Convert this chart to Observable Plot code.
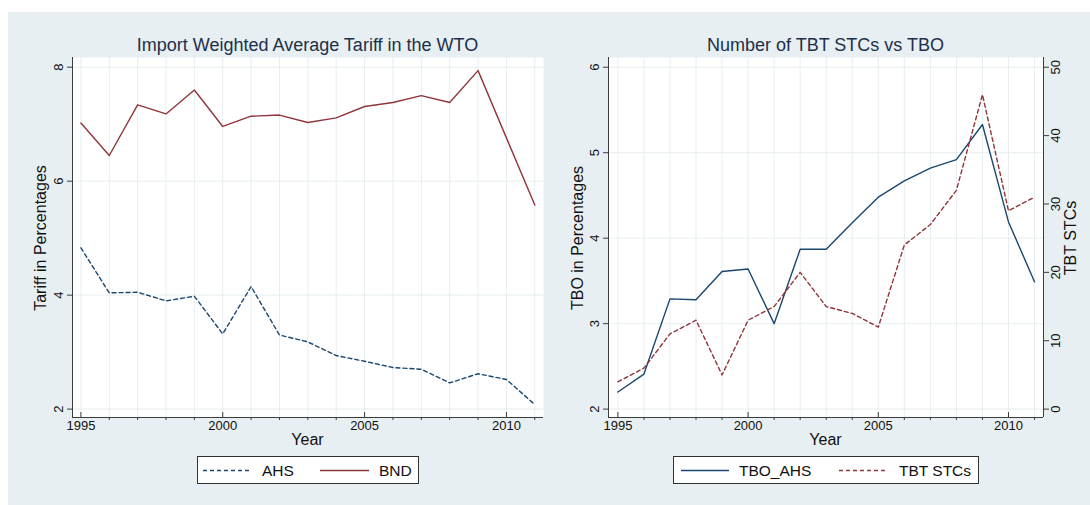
<!DOCTYPE html>
<html><head><meta charset="utf-8">
<script src="https://cdn.jsdelivr.net/npm/d3@7"></script>
<script src="https://cdn.jsdelivr.net/npm/@observablehq/plot@0.6"></script>
<style>
body{margin:0;background:#fff;}
#wrap{position:relative;width:1090px;height:505px;background:#fff;overflow:hidden;font-family:"Liberation Sans",Arial,sans-serif;}
#bg{position:absolute;left:8px;top:12px;right:0;bottom:0;background:#e8eff2;}
.panel{position:absolute;top:0;}
.panel text{font-size:13px !important;font-family:"Liberation Sans",Arial,sans-serif;}
.t{position:absolute;white-space:nowrap;color:#111;line-height:1;}
.title{font-size:18px;color:#1d2f4b;transform:translate(-50%,-50%);}
.xl{font-size:16px;transform:translate(-50%,-50%);}
.yl{font-size:16px;transform:translate(-50%,-50%) rotate(-90deg);}
.legend{position:absolute;background:#fff;border:1px solid #333;box-sizing:border-box;}
.legend svg{position:absolute;left:0;top:0;}
.lt{position:absolute;font-size:15.5px;color:#111;line-height:1;white-space:nowrap;transform:translateY(-50%);}
</style></head>
<body><div id="wrap"><div id="bg"></div></div>
<script>
// ---- data ----
const years = [1995,1996,1997,1998,1999,2000,2001,2002,2003,2004,2005,2006,2007,2008,2009,2010,2011];
const majorYears = [1995,2000,2005,2010];
const ahs = [4.83,4.04,4.05,3.90,3.98,3.32,4.15,3.30,3.18,2.94,2.84,2.73,2.70,2.46,2.62,2.52,2.08];
const bnd = [7.02,6.45,7.34,7.18,7.60,6.96,7.14,7.16,7.03,7.11,7.31,7.38,7.50,7.38,7.94,6.76,5.58];
const tbo = [2.20,2.41,3.29,3.28,3.61,3.64,3.00,3.87,3.87,4.18,4.48,4.67,4.82,4.92,5.33,4.19,3.49];
const stc = [4,6,11,13,5,13,15,20,15,14,12,24,27,32,46,29,31];
const leftTicks1 = [2,4,6,8];
const leftTicks2 = [2,3,4,5,6];
const stcTicks = [0,10,20,30,40,50];
const titles = ["Import Weighted Average Tariff in the WTO","Number of TBT STCs vs TBO"];
const yLabels = ["Tariff in Percentages","TBO in Percentages","TBT STCs"];
const legend1 = ["AHS","BND"];
const legend2 = ["TBO_AHS","TBT STCs"];

// right axis (0..50) aligned with left axis (2..6)
const stcToLeft = v => 2 + v * (6 - 2) / (50 - 0);
const leftToStc = d => String(Math.round((d - 2) * (50 - 0) / (6 - 2)));

const rows = years.map((year,i)=>({year, ahs:ahs[i], bnd:bnd[i], tbo:tbo[i], stc:stcToLeft(stc[i])}));
const minorYears = years.filter(y=>!majorYears.includes(y));

const navy="#1a476f", maroon="#90353b", grid="#e6eef0", axisColor="#3c3c3c", txt="#111";
const font="'Liberation Sans', Arial, sans-serif";
const wrap=document.getElementById("wrap");

function commonMarks(xd, yd, yt){
  return [
    Plot.frame({fill:"white", stroke:null}),
    Plot.gridX(years,{stroke:grid, strokeOpacity:1}),
    Plot.gridY(yt,{stroke:grid, strokeOpacity:1}),
    Plot.axisX(minorYears,{tickSize:3, tickFormat:()=>"", stroke:axisColor, label:null}),
    Plot.axisX(majorYears,{tickSize:-5, tickPadding:8, tickFormat:d=>String(d), stroke:axisColor, fill:txt, fontSize:13, label:null}),
    Plot.axisY(yt,{tickSize:5, tickRotate:-90, tickPadding:5, lineAnchor:"bottom", tickFormat:d=>String(d), stroke:axisColor, fill:txt, fontSize:13, label:null}),
    Plot.ruleY([yd[0]],{stroke:axisColor}),
    Plot.ruleX([xd[0]],{stroke:axisColor})
  ];
}

const xd1=[1994.704,2011.307], yd1=[1.853,8.17];
const p1 = Plot.plot({
  width:545, height:450, marginLeft:72, marginRight:2, marginTop:57, marginBottom:33,
  style:{background:"transparent", fontFamily:font, fontSize:"13px", color:txt},
  x:{domain:xd1}, y:{domain:yd1},
  marks:[
    ...commonMarks(xd1,yd1,leftTicks1),
    Plot.line(rows,{x:"year", y:"ahs", stroke:navy, strokeWidth:1.4, strokeDasharray:"4,3"}),
    Plot.line(rows,{x:"year", y:"bnd", stroke:maroon, strokeWidth:1.4})
  ]
});
p1.classList.add("panel"); p1.style.left="0px";
wrap.appendChild(p1);

const xd2=[1994.639,2011.345], yd2=[1.902,6.114];
const p2 = Plot.plot({
  width:545, height:450, marginLeft:63, marginRight:47, marginTop:57, marginBottom:33,
  style:{background:"transparent", fontFamily:font, fontSize:"13px", color:txt},
  x:{domain:xd2}, y:{domain:yd2},
  marks:[
    ...commonMarks(xd2,yd2,leftTicks2),
    Plot.axisY(stcTicks.map(stcToLeft),{anchor:"right", tickSize:5, tickRotate:-90, tickPadding:2, lineAnchor:"top", tickFormat:leftToStc, stroke:axisColor, fill:txt, fontSize:13, label:null}),
    Plot.ruleX([xd2[1]],{stroke:axisColor}),
    Plot.line(rows,{x:"year", y:"tbo", stroke:navy, strokeWidth:1.4}),
    Plot.line(rows,{x:"year", y:"stc", stroke:maroon, strokeWidth:1.4, strokeDasharray:"4,3"})
  ]
});
p2.classList.add("panel"); p2.style.left="545px";
wrap.appendChild(p2);

function label(text, cls, x, y){
  const d=document.createElement("div");
  d.className="t "+cls; d.textContent=text;
  d.style.left=x+"px"; d.style.top=y+"px";
  wrap.appendChild(d);
}
label(titles[0],"title",307.5,45);
label(titles[1],"title",825.5,45);
label("Year","xl",307.5,440);
label("Year","xl",825.5,440);
label(yLabels[0],"yl",41,238);
label(yLabels[1],"yl",578,238);
label(yLabels[2],"yl",1071,238);

function legend(left, width, items){
  const box=document.createElement("div");
  box.className="legend";
  box.style.left=left+"px"; box.style.top="456px";
  box.style.width=width+"px"; box.style.height="28px";
  const ns="http://www.w3.org/2000/svg";
  const svg=document.createElementNS(ns,"svg");
  svg.setAttribute("width",width); svg.setAttribute("height",28);
  items.forEach(it=>{
    const l=document.createElementNS(ns,"line");
    l.setAttribute("x1",it.s0); l.setAttribute("x2",it.s1);
    l.setAttribute("y1",13.5); l.setAttribute("y2",13.5);
    l.setAttribute("stroke",it.color); l.setAttribute("stroke-width",1.4);
    if(it.dash) l.setAttribute("stroke-dasharray","4,3");
    svg.appendChild(l);
    const t=document.createElement("div");
    t.className="lt"; t.textContent=it.text;
    t.style.left=it.tx+"px"; t.style.top="13.5px";
    box.appendChild(t);
  });
  box.appendChild(svg);
  wrap.appendChild(box);
}
legend(197,222,[
  {text:legend1[0], color:navy, dash:true, s0:5, s1:54, tx:64},
  {text:legend1[1], color:maroon, dash:false, s0:122, s1:171, tx:181}
]);
legend(673,306,[
  {text:legend2[0], color:navy, dash:false, s0:7, s1:55, tx:65},
  {text:legend2[1], color:maroon, dash:true, s0:165, s1:214, tx:225}
]);
</script>
</body></html>
